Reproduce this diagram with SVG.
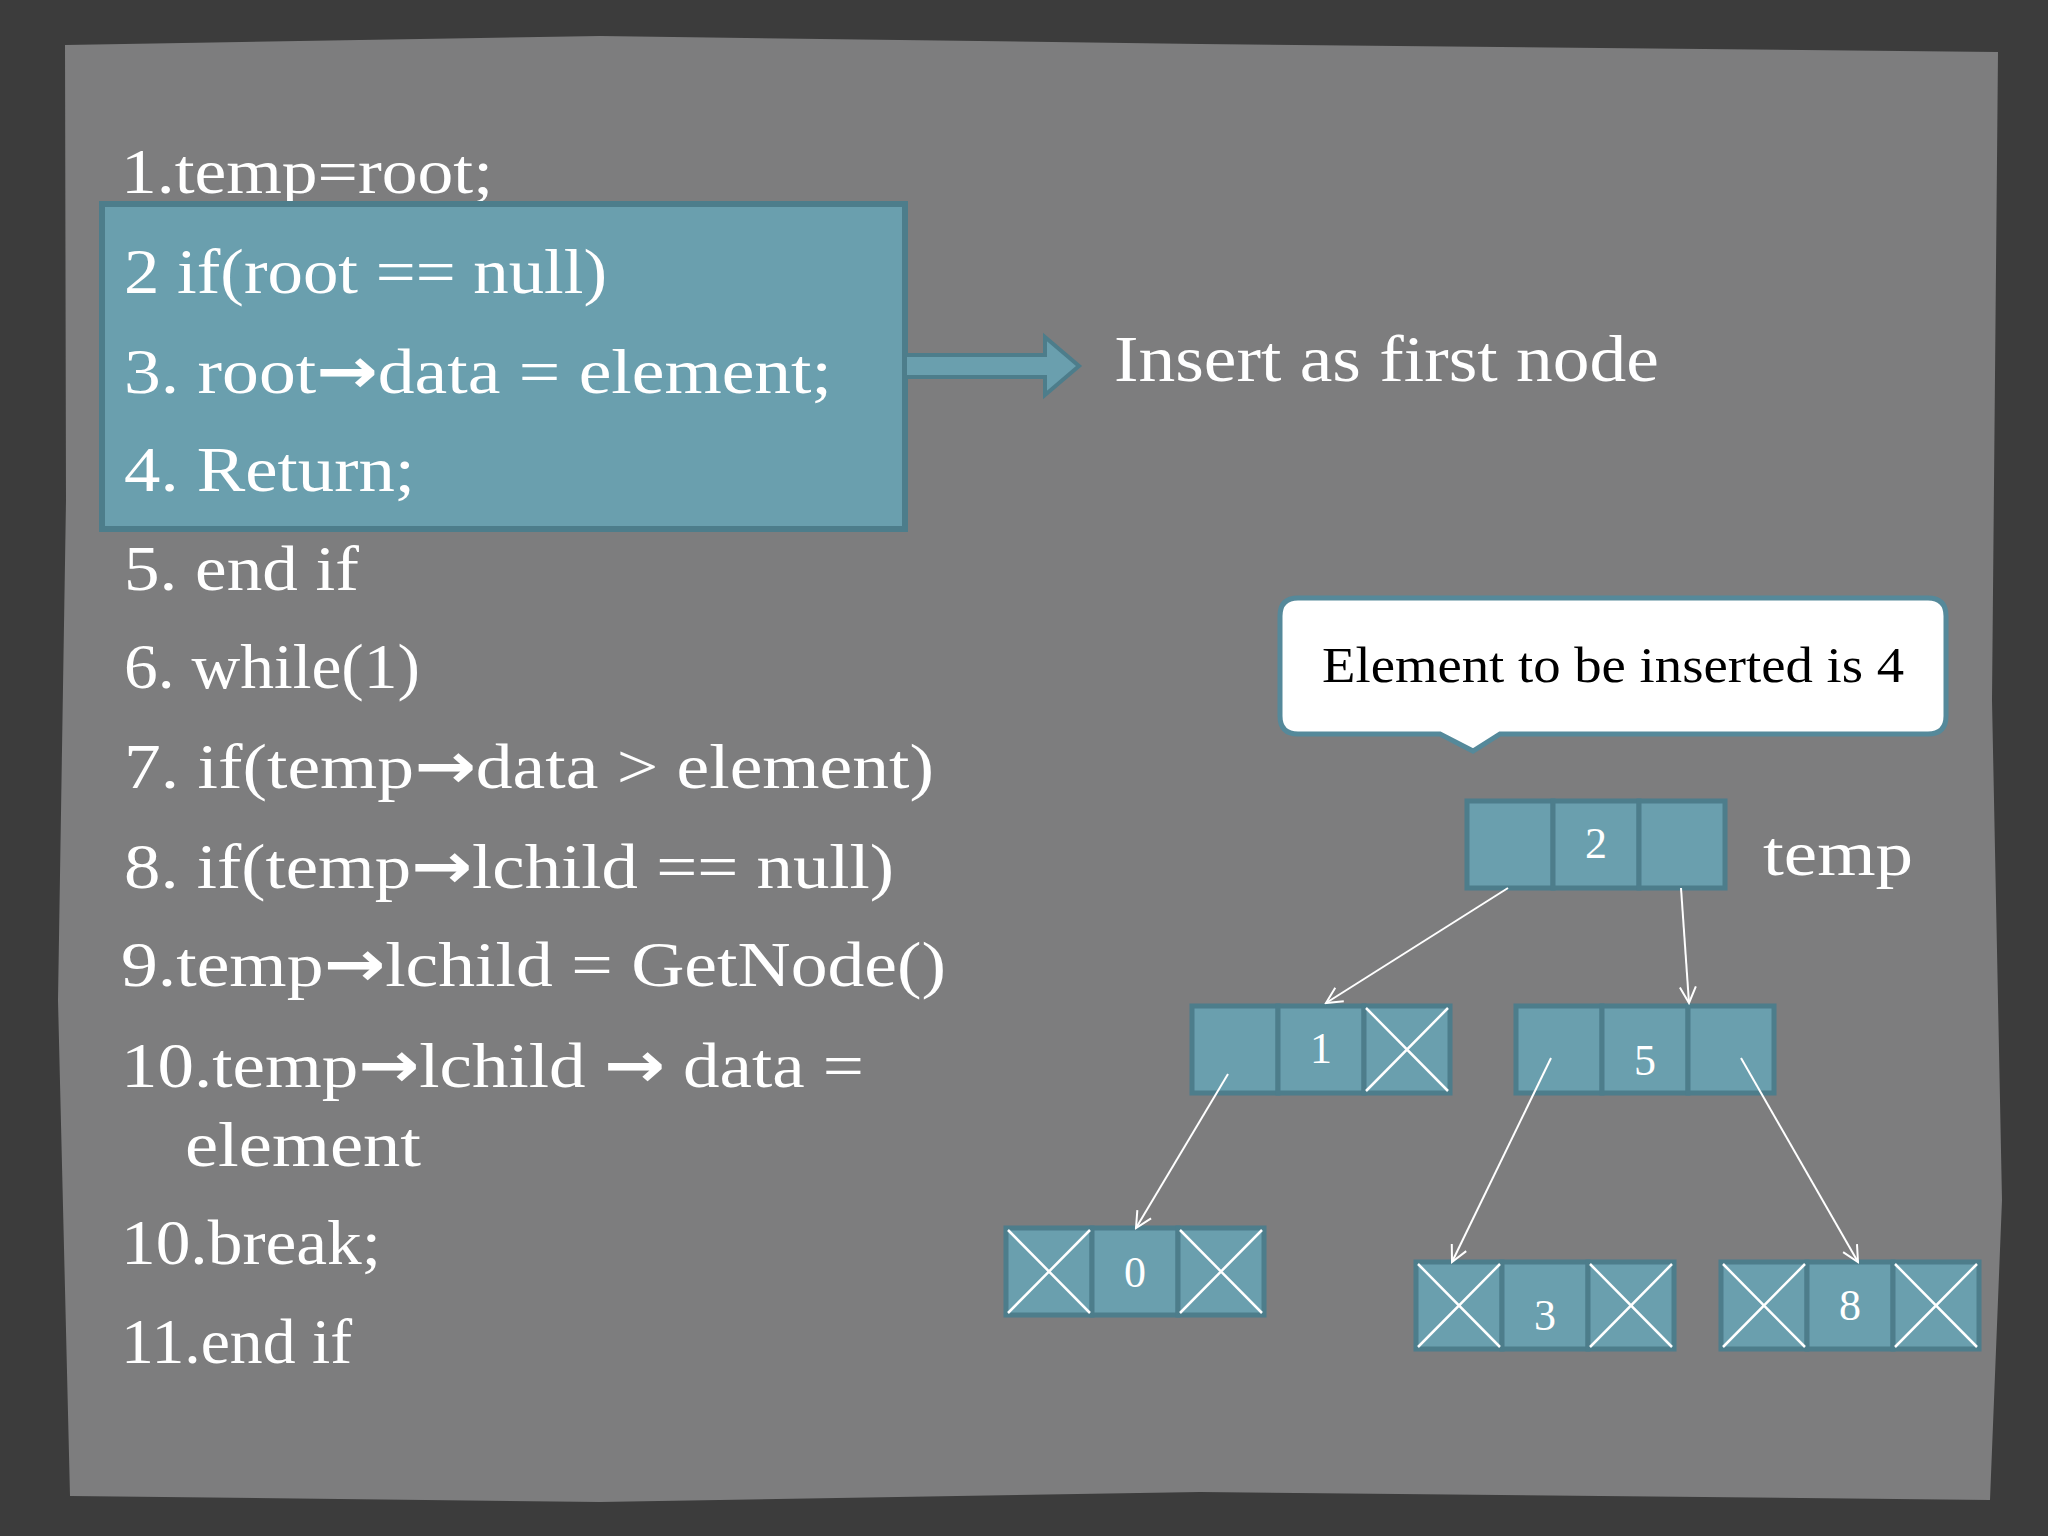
<svg xmlns="http://www.w3.org/2000/svg" width="2048" height="1536" viewBox="0 0 2048 1536">
<style>
.code{font-family:"Liberation Serif",serif;font-size:64px;fill:#fff}
.ar{font-family:"DejaVu Sans",sans-serif;font-weight:bold}
.cell{fill:#6a9fae;stroke:#4d7d8b;stroke-width:5}
.num{font-family:"Liberation Serif",serif;font-size:44px;fill:#fff;text-anchor:middle}
.x{stroke:#fff;stroke-width:2.5}
.conn{stroke:#fff;stroke-width:2;fill:none;marker-end:url(#ah)}
</style>
<defs>
<marker id="ah" viewBox="0 0 20 20" refX="18" refY="10" markerWidth="20" markerHeight="20" markerUnits="userSpaceOnUse" orient="auto">
<path d="M2,2 L18,10 L2,18" fill="none" stroke="#fff" stroke-width="2"/>
</marker>
</defs>
<rect width="2048" height="1536" fill="#3c3c3c"/>
<path d="M65,45 L600,36 L1200,44 L1998,52 L1992,700 L2002,1200 L1990,1500 L1200,1492 L600,1502 L70,1496 L58,1000 L66,500 Z" fill="#7d7d7e"/>
<g id="code">
<text class="code" x="121" y="193" textLength="372" lengthAdjust="spacingAndGlyphs">1.temp=root;</text>
<rect x="102" y="204" width="803" height="325" fill="#6a9fae" stroke="#4d7d8b" stroke-width="6"/>
<text class="code" x="124" y="293" textLength="483" lengthAdjust="spacingAndGlyphs">2 if(root == null)</text>
<text class="code" x="124" y="393" textLength="708" lengthAdjust="spacingAndGlyphs">3. root<tspan class="ar">→</tspan>data = element;</text>
<text class="code" x="124" y="491" textLength="291" lengthAdjust="spacingAndGlyphs">4. Return;</text>
<text class="code" x="124" y="590" textLength="235" lengthAdjust="spacingAndGlyphs">5. end if</text>
<text class="code" x="124" y="688" textLength="296" lengthAdjust="spacingAndGlyphs">6. while(1)</text>
<text class="code" x="124" y="788" textLength="810" lengthAdjust="spacingAndGlyphs">7. if(temp<tspan class="ar">→</tspan>data &gt; element)</text>
<text class="code" x="124" y="888" textLength="770" lengthAdjust="spacingAndGlyphs">8. if(temp<tspan class="ar">→</tspan>lchild == null)</text>
<text class="code" x="121" y="986" textLength="825" lengthAdjust="spacingAndGlyphs">9.temp<tspan class="ar">→</tspan>lchild = GetNode()</text>
<text class="code" x="121" y="1087" textLength="743" lengthAdjust="spacingAndGlyphs">10.temp<tspan class="ar">→</tspan>lchild <tspan class="ar">→</tspan> data =</text>
<text class="code" x="185" y="1166" textLength="236" lengthAdjust="spacingAndGlyphs">element</text>
<text class="code" x="121" y="1264" textLength="260" lengthAdjust="spacingAndGlyphs">10.break;</text>
<text class="code" x="121" y="1363" textLength="231" lengthAdjust="spacingAndGlyphs">11.end if</text>
</g>
<g id="bigarrow">
<path d="M905,355 L1045,355 L1045,337 L1079,366 L1045,395 L1045,377 L905,377 Z" fill="#6a9fae" stroke="#4d7d8b" stroke-width="4"/>
<text x="1114" y="381" font-family="Liberation Serif,serif" font-size="66" fill="#fff" textLength="545" lengthAdjust="spacingAndGlyphs">Insert as first node</text>
</g>
<g id="callout">
<path d="M1298,598 L1928,598 Q1946,598 1946,616 L1946,716 Q1946,734 1928,734 L1500,734 L1473,751 L1440,734 L1298,734 Q1280,734 1280,716 L1280,616 Q1280,598 1298,598 Z" fill="#fff" stroke="#55899a" stroke-width="5"/>
<text x="1322" y="682" font-family="Liberation Serif,serif" font-size="50" fill="#000" textLength="582" lengthAdjust="spacingAndGlyphs">Element to be inserted is 4</text>
</g>
<g id="node2">
<rect class="cell" x="1467" y="801" width="86" height="87"/><rect class="cell" x="1553" y="801" width="86" height="87"/><rect class="cell" x="1639" y="801" width="86" height="87"/>
<text class="num" x="1596" y="858">2</text>
<text x="1763" y="875" font-family="Liberation Serif,serif" font-size="64" fill="#fff" textLength="150" lengthAdjust="spacingAndGlyphs">temp</text>
</g>
<g id="node1">
<rect class="cell" x="1192" y="1006" width="86" height="87"/><rect class="cell" x="1278" y="1006" width="86" height="87"/><rect class="cell" x="1364" y="1006" width="86" height="87"/>
<text class="num" x="1321" y="1063">1</text>
<path class="x" d="M1366,1008 L1448,1091 M1448,1008 L1366,1091"/>
</g>
<g id="node5">
<rect class="cell" x="1516" y="1006" width="86" height="87"/><rect class="cell" x="1602" y="1006" width="86" height="87"/><rect class="cell" x="1688" y="1006" width="86" height="87"/>
<text class="num" x="1645" y="1075">5</text>
</g>
<g id="node0">
<rect class="cell" x="1006" y="1228" width="86" height="87"/><rect class="cell" x="1092" y="1228" width="86" height="87"/><rect class="cell" x="1178" y="1228" width="86" height="87"/>
<text class="num" x="1135" y="1287">0</text>
<path class="x" d="M1008,1230 L1090,1313 M1090,1230 L1008,1313 M1180,1230 L1262,1313 M1262,1230 L1180,1313"/>
</g>
<g id="node3">
<rect class="cell" x="1416" y="1262" width="86" height="87"/><rect class="cell" x="1502" y="1262" width="86" height="87"/><rect class="cell" x="1588" y="1262" width="86" height="87"/>
<text class="num" x="1545" y="1330">3</text>
<path class="x" d="M1418,1264 L1500,1347 M1500,1264 L1418,1347 M1590,1264 L1672,1347 M1672,1264 L1590,1347"/>
</g>
<g id="node8">
<rect class="cell" x="1721" y="1262" width="86" height="87"/><rect class="cell" x="1807" y="1262" width="86" height="87"/><rect class="cell" x="1893" y="1262" width="86" height="87"/>
<text class="num" x="1850" y="1320">8</text>
<path class="x" d="M1723,1264 L1805,1347 M1805,1264 L1723,1347 M1895,1264 L1977,1347 M1977,1264 L1895,1347"/>
</g>
<g id="connectors">
<line class="conn" x1="1508" y1="888" x2="1326" y2="1003"/>
<line class="conn" x1="1681" y1="888" x2="1689" y2="1003"/>
<line class="conn" x1="1228" y1="1074" x2="1136" y2="1228"/>
<line class="conn" x1="1551" y1="1058" x2="1452" y2="1262"/>
<line class="conn" x1="1741" y1="1058" x2="1858" y2="1262"/>
</g>
</svg>
